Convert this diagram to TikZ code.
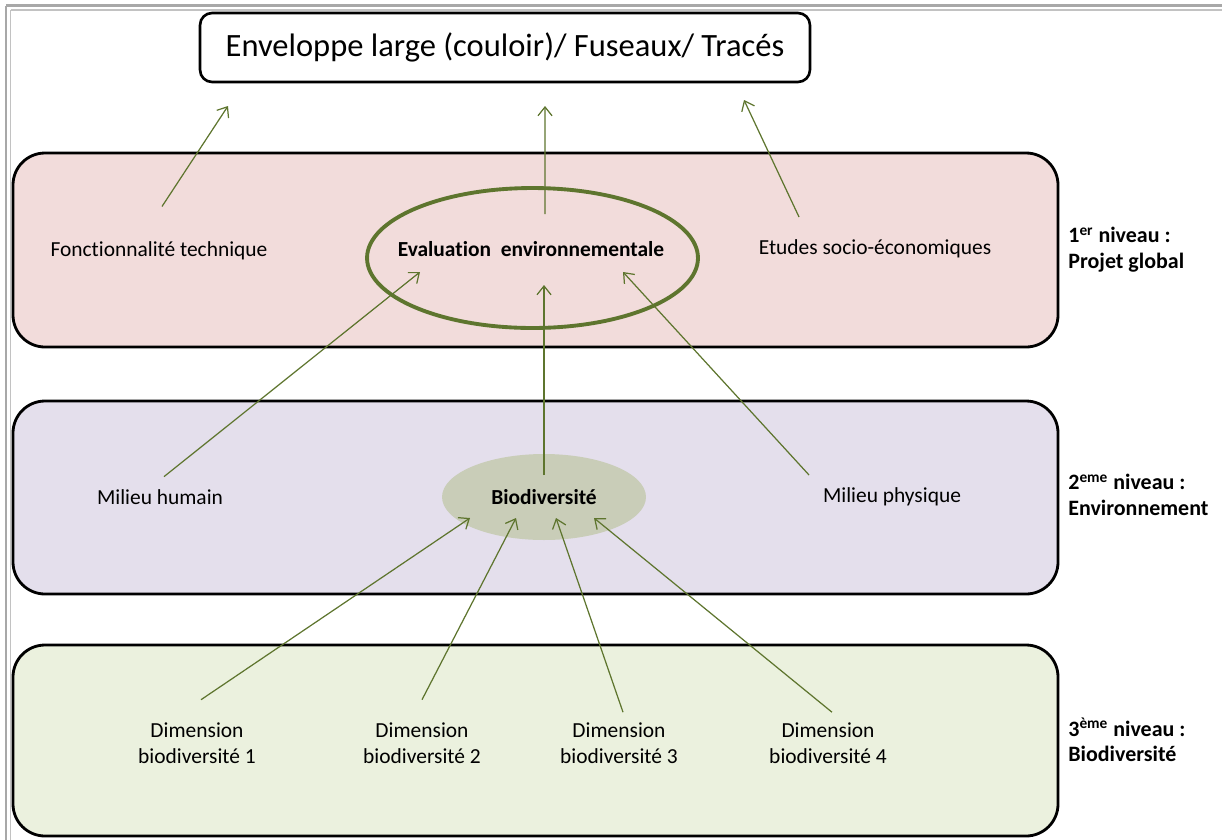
\documentclass[tikz,border=0pt]{standalone}
\usepackage{fontspec}
\setmainfont{Carlito}[Ligatures={NoCommon,NoContextual},RawFeature={-calt}]
\usetikzlibrary{shapes.geometric,arrows.meta}
\definecolor{olivegr}{RGB}{94,117,46}
\definecolor{pinkfill}{RGB}{242,220,219}
\definecolor{lavfill}{RGB}{228,223,236}
\definecolor{greenfill}{RGB}{235,241,222}
\definecolor{biofill}{RGB}{201,205,184}
\definecolor{framegray}{RGB}{168,168,168}
\begin{document}
\begin{tikzpicture}[x=0.02cm,y=-0.02cm,
  panel/.style={draw=black,line width=1.6pt,rounded corners=0.64cm},
  lbl/.style={font=\fontsize{12.2}{14.8}\selectfont,align=center,inner sep=0pt},
  lvl/.style={font=\fontsize{12.5}{14.4}\selectfont\bfseries,align=left,anchor=west,inner sep=0pt},
  arr/.style={draw=olivegr,line width=0.7pt,-{Straight Barb[length=5pt,width=8pt]}}]
\useasboundingbox (0,0) rectangle (1222,839);
% frame
\draw[framegray,line width=1.2pt] (6,5.5)--(1240,5.5) (6,5.5)--(6,860);
\draw[framegray!70,line width=0.6pt] (10.5,10)--(1240,10) (10.5,10)--(10.5,860);
% three levels
\draw[panel,fill=pinkfill] (13,153) rectangle (1058,347);
\draw[panel,fill=lavfill] (13,401) rectangle (1058,594);
\draw[panel,fill=greenfill] (13,645) rectangle (1058,836);
% top box
\node[draw,line width=1.5pt,rounded corners=0.24cm,minimum width=12.2cm,minimum height=1.38cm,font=\fontsize{18.5}{20}\selectfont](env) at (505,47.5){Enveloppe large (couloir)/ Fuseaux/ Tracés};
% level 1
\node[lbl](fonc) at (159,251){Fonctionnalité technique};
\node[ellipse,draw=olivegr,line width=2.2pt,minimum width=6.62cm,minimum height=2.8cm](evalenv) at (532.5,258){};
\node[lbl,font=\fontsize{12.2}{14}\selectfont\bfseries](evaltxt) at (531,249){Evaluation~ environnementale};
\node[lbl](etudes) at (875,249){Etudes socio-économiques};
% level 2
\node[lbl](mhum) at (160,497){Milieu humain};
\node[ellipse,fill=biofill,minimum width=4.08cm,minimum height=1.72cm,inner sep=0pt,font=\fontsize{12.2}{14}\selectfont\bfseries](bio) at (544,497){Biodiversité};
\node[lbl](mphy) at (892,497){Milieu physique};
% level 3
\node[lbl](dim1) at (197,743){Dimension\\biodiversité 1};
\node[lbl](dim2) at (422,743){Dimension\\biodiversité 2};
\node[lbl](dim3) at (619,743){Dimension\\biodiversité 3};
\node[lbl](dim4) at (828,743){Dimension\\biodiversité 4};
% level names
\node[lvl](niv1) at (1068,249.5){1\textsuperscript{er} niveau :\\Projet global};
\node[lvl](niv2) at (1068,495){2\textsuperscript{eme} niveau :\\Environnement};
\node[lvl](niv3) at (1068,740){3\textsuperscript{ème} niveau :\\Biodiversité};
% arrow ends
\coordinate(e1) at (228,106);
\coordinate(e2) at (545,106);
\coordinate(e3) at (744,100);
\coordinate(v1) at (420,272);
\coordinate(v2) at (544,285);
\coordinate(v3) at (623,272);
\coordinate(b1) at (470,518);
\coordinate(b2) at (516,518);
\coordinate(b3) at (556,518);
\coordinate(b4) at (594,518);
% arrows
\draw[arr]([xshift=0.06cm,yshift=0.7cm]fonc.north)--(e1);
\draw[arr]([xshift=0.25cm,yshift=-0.56cm]evalenv.north)--(e2);
\draw[arr]([xshift=-1.52cm,yshift=0.45cm]etudes.north)--(e3);
\draw[arr]([xshift=0.08cm,yshift=0.25cm]mhum.north)--(v1);
\draw[arr](bio.center)++(0,-22)--(v2);
\draw[arr]([xshift=-1.66cm,yshift=0.25cm]mphy.north)--(v3);
\draw[arr]([xshift=0.08cm,yshift=0.45cm]dim1.north)--(b1);
\draw[arr]([yshift=0.45cm]dim2.north)--(b2);
\draw[arr]([xshift=0.08cm,yshift=0.2cm]dim3.north)--(b3);
\draw[arr]([xshift=0.08cm,yshift=0.2cm]dim4.north)--(b4);
\end{tikzpicture}
\end{document}
